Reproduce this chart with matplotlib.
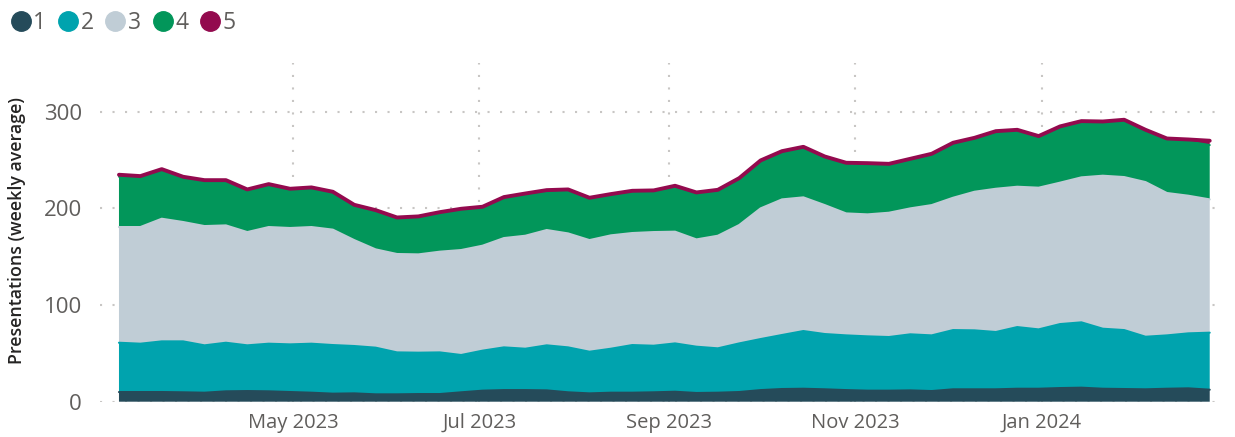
import pandas as pd
import numpy as np
import matplotlib
matplotlib.use("Agg")
import matplotlib.pyplot as plt
import matplotlib.dates as mdates
from matplotlib.lines import Line2D

plt.rcParams['font.family'] = ['Open Sans', 'DejaVu Sans']

# weekly dates (Sundays)
weeks = pd.date_range('2023-03-05', periods=52, freq='7D')

# weekly average presentations per category
cat1 = [10.0, 10.0, 10.0, 9.7, 9.3, 10.7, 11.0, 10.7, 10.0, 9.3, 8.3, 8.6, 7.6, 7.6, 7.9, 7.9,
        9.7, 11.4, 12.0, 12.0, 11.7, 9.7, 8.6, 9.3, 9.3, 9.7, 10.3, 9.0, 9.3, 10.0, 12.0, 13.1,
        13.4, 12.8, 12.0, 11.4, 11.4, 11.7, 11.0, 12.8, 12.8, 12.8, 13.4, 13.4, 14.1, 14.5,
        13.4, 13.1, 12.8, 13.4, 13.8, 12.4]
cat2 = [51.0, 50.0, 52.4, 52.7, 49.0, 50.3, 47.3, 49.3, 49.3, 50.7, 50.3, 49.0, 48.3, 43.4,
        42.8, 43.1, 38.6, 41.4, 44.2, 42.8, 46.6, 46.5, 43.1, 45.5, 49.3, 48.2, 50.0, 47.9,
        45.9, 50.3, 52.8, 55.9, 59.7, 57.2, 56.6, 56.2, 55.5, 58.0, 57.6, 61.3, 61.0, 59.3,
        63.8, 61.4, 66.2, 67.6, 62.1, 61.0, 54.4, 55.2, 56.9, 59.0]
cat3 = [119.7, 120.7, 126.9, 123.5, 123.4, 121.4, 117.2, 120.7, 120.4, 120.7, 119.4, 109.6,
        101.7, 101.8, 101.7, 104.2, 108.6, 108.6, 113.1, 116.9, 119.3, 117.9, 115.5, 117.3,
        115.9, 117.6, 115.6, 111.0, 116.5, 122.5, 135.2, 140.3, 138.3, 133.4, 126.2, 126.2,
        128.6, 130.3, 134.8, 136.9, 143.4, 148.2, 145.2, 146.6, 146.3, 150.0, 158.3, 158.3,
        160.0, 147.3, 142.4, 137.9]
cat4 = [52.1, 50.7, 49.3, 44.8, 45.5, 44.8, 42.1, 42.4, 38.6, 39.0, 37.2, 34.5, 38.6, 35.8,
        37.3, 38.9, 40.7, 38.3, 40.4, 41.7, 39.3, 43.5, 41.8, 40.7, 41.7, 41.1, 45.5, 46.6,
        45.5, 46.5, 47.6, 47.9, 50.3, 48.3, 50.4, 51.0, 48.6, 49.3, 51.1, 54.9, 53.8, 57.6,
        56.9, 51.4, 56.2, 56.2, 54.1, 57.3, 52.1, 54.4, 56.2, 56.2]
cat5 = [2.0] * 51 + [4.5]

labels = ['1', '2', '3', '4', '5']
colors = ['#254B5A', '#00A3AE', '#C0CDD6', '#02965A', '#930A4E']
series = [cat1, cat2, cat3, cat4, cat5]

fig = plt.figure(figsize=(12.35, 4.37), dpi=100)
ax = fig.add_axes([100 / 1235, (437 - 401.7) / 437, 1125 / 1235, (401.7 - 63.4) / 437])

ax.stackplot(weeks, *series, colors=colors, linewidth=0, zorder=2)

# top edge line of every layer
cum = np.cumsum(np.array(series), axis=0)
for i in range(5):
    lw = 2.8 if i == 4 else 1.5
    ax.plot(weeks, cum[i], color=colors[i], lw=lw, solid_capstyle='round',
            solid_joinstyle='round', zorder=3)

ax.set_ylim(0, 350)
ax.set_xlim(pd.Timestamp('2023-02-26 19:00'), pd.Timestamp('2024-03-01'))
ax.set_yticks([0, 100, 200, 300])
ax.xaxis.set_major_locator(mdates.MonthLocator(bymonth=[1, 5, 7, 9, 11]))
ax.xaxis.set_major_formatter(mdates.DateFormatter('%b %Y'))

ax.grid(True, color='#C8C6C4', linestyle=(0, (1, 5)), linewidth=1.5, zorder=0)
ax.set_axisbelow(True)
for s in ax.spines.values():
    s.set_visible(False)
ax.tick_params(axis='both', length=0, colors='#605E5C')
ax.tick_params(axis='y', labelsize=16, pad=13)
ax.tick_params(axis='x', labelsize=14.5, pad=8)

fig.text(17 / 1235, 1 - 230 / 437, 'Presentations (weekly average)', rotation=90,
         ha='center', va='center', fontsize=12.8, color='#252423', fontweight='semibold')

handles = [Line2D([], [], marker='o', linestyle='', markersize=14, color=c) for c in colors]
fig.legend(handles, labels, loc='upper left', bbox_to_anchor=(-0.0075, 1.022), ncol=5,
           frameon=False, fontsize=16.5, handlelength=0.8, handletextpad=0.15,
           columnspacing=0.55, labelcolor='#605E5C')

fig.savefig('out.png', dpi=100)
